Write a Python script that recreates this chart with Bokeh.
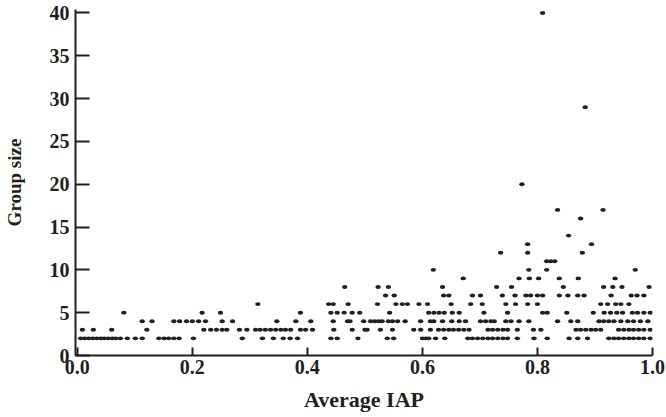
from bokeh.plotting import figure
from bokeh.models import Range1d, FixedTicker, PrintfTickFormatter, ColumnDataSource
from bokeh.embed import file_html
from bokeh.resources import INLINE

# Average IAP values of the groups, listed by group size
iap_size_2 = [0.006, 0.013, 0.020, 0.027, 0.034, 0.041, 0.047, 0.054, 0.061, 0.067,
              0.075, 0.087, 0.101, 0.113, 0.142, 0.151, 0.159, 0.168, 0.177, 0.202,
              0.287, 0.322, 0.341, 0.358, 0.370, 0.383, 0.441, 0.452, 0.488, 0.539,
              0.550, 0.600, 0.606, 0.611, 0.623, 0.639, 0.679, 0.687, 0.696, 0.705,
              0.714, 0.722, 0.731, 0.740, 0.748, 0.765, 0.794, 0.817, 0.855, 0.870,
              0.887, 0.924, 0.933, 0.941, 0.950, 0.959, 0.967, 0.976, 0.985, 0.996]
iap_size_3 = [0.009, 0.028, 0.060, 0.121, 0.220, 0.232, 0.242, 0.252, 0.260, 0.282,
              0.295, 0.310, 0.318, 0.327, 0.336, 0.345, 0.354, 0.362, 0.371, 0.388,
              0.397, 0.409, 0.446, 0.478, 0.500, 0.504, 0.527, 0.548, 0.585, 0.597,
              0.614, 0.628, 0.637, 0.646, 0.654, 0.663, 0.672, 0.681, 0.714, 0.722,
              0.731, 0.740, 0.748, 0.765, 0.793, 0.806, 0.867, 0.875, 0.884, 0.893,
              0.901, 0.910, 0.941, 0.950, 0.959, 0.967, 0.976, 0.985, 0.996]
iap_size_4 = [0.113, 0.130, 0.168, 0.178, 0.190, 0.200, 0.211, 0.223, 0.252, 0.270,
              0.347, 0.380, 0.406, 0.445, 0.470, 0.474, 0.498, 0.510, 0.517, 0.524,
              0.530, 0.541, 0.548, 0.557, 0.570, 0.597, 0.614, 0.620, 0.635, 0.651,
              0.664, 0.675, 0.701, 0.710, 0.719, 0.725, 0.745, 0.754, 0.768, 0.785,
              0.835, 0.858, 0.870, 0.907, 0.915, 0.924, 0.933, 0.945, 0.957, 0.967,
              0.979, 0.992]
iap_size_5 = [0.081, 0.217, 0.249, 0.388, 0.441, 0.452, 0.464, 0.478, 0.491, 0.543,
              0.611, 0.620, 0.629, 0.638, 0.652, 0.664, 0.707, 0.748, 0.809, 0.817,
              0.851, 0.897, 0.916, 0.927, 0.938, 0.948, 0.965, 0.974, 0.985, 0.996]
iap_size_6 = [0.314, 0.437, 0.445, 0.471, 0.522, 0.554, 0.565, 0.574, 0.594, 0.609,
              0.650, 0.684, 0.704, 0.745, 0.762, 0.783, 0.800, 0.910, 0.922, 0.936,
              0.945, 0.959]
iap_size_7 = [0.536, 0.551, 0.637, 0.646, 0.687, 0.701, 0.739, 0.761, 0.780, 0.788,
              0.800, 0.809, 0.838, 0.853, 0.870, 0.881, 0.928, 0.963, 0.973, 0.985]
iap_size_8 = [0.465, 0.523, 0.541, 0.635, 0.729, 0.755, 0.845, 0.915, 0.931, 0.947, 0.994]
iap_size_9 = [0.671, 0.768, 0.786, 0.802, 0.838, 0.871, 0.935]
iap_size_10 = [0.619, 0.785, 0.816, 0.970]
iap_size_11 = [0.816, 0.823, 0.830]
iap_size_12 = [0.736, 0.783, 0.878]
iap_size_13 = [0.783, 0.894]
iap_size_14 = [0.854]
iap_size_16 = [0.875]
iap_size_17 = [0.835, 0.914]
iap_size_20 = [0.773]
iap_size_29 = [0.883]
iap_size_40 = [0.809]

x_ticks = [0.0, 0.2, 0.4, 0.6, 0.8, 1.0]
y_ticks = [0, 5, 10, 15, 20, 25, 30, 35, 40]

rows = [(2, iap_size_2), (3, iap_size_3), (4, iap_size_4), (5, iap_size_5),
        (6, iap_size_6), (7, iap_size_7), (8, iap_size_8), (9, iap_size_9),
        (10, iap_size_10), (11, iap_size_11), (12, iap_size_12), (13, iap_size_13),
        (14, iap_size_14), (16, iap_size_16), (17, iap_size_17), (20, iap_size_20),
        (29, iap_size_29), (40, iap_size_40)]
avg_iap, group_size = [], []
for g, xs in rows:
    avg_iap += xs
    group_size += [g] * len(xs)
src = ColumnDataSource(data=dict(x=avg_iap, y=group_size))

INK = "#231f20"
FONT = "Liberation Serif"

p = figure(width=666, height=417, output_backend="svg", toolbar_location=None,
           x_range=Range1d(-0.003, 1.0), y_range=Range1d(0, 40.4),
           min_border_left=75, min_border_right=14, min_border_top=9,
           min_border_bottom=62)
p.outline_line_color = None
p.xgrid.visible = False
p.ygrid.visible = False

p.ellipse(x="x", y="y", width=5.4, height=3.9, width_units="screen",
          height_units="screen", fill_color=INK, line_color=None, source=src)

for ax in (p.xaxis[0], p.yaxis[0]):
    ax.axis_line_color = INK
    ax.axis_line_width = 2
    ax.major_tick_line_color = INK
    ax.major_tick_line_width = 2
    ax.major_tick_out = 0
    ax.minor_tick_line_color = None
    ax.major_label_text_font = FONT
    ax.major_label_text_font_style = "bold"
    ax.major_label_text_font_size = "20px"
    ax.major_label_text_color = INK
    ax.axis_label_text_font = FONT
    ax.axis_label_text_font_style = "bold"
    ax.axis_label_text_color = INK

p.xaxis.ticker = FixedTicker(ticks=x_ticks)
p.xaxis.formatter = PrintfTickFormatter(format="%.1f")
p.xaxis.major_tick_in = 8
p.xaxis.major_label_standoff = 4
p.xaxis.axis_label = "Average IAP"
p.xaxis.axis_label_text_font_size = "22px"
p.xaxis.axis_label_standoff = 10

p.yaxis.ticker = FixedTicker(ticks=y_ticks)
p.yaxis.major_tick_in = 14
p.yaxis.major_label_standoff = 6
p.yaxis.axis_label = "Group size"
p.yaxis.axis_label_text_font_size = "19px"
p.yaxis.axis_label_standoff = 22

open("out.html", "w").write(file_html(p, INLINE))
